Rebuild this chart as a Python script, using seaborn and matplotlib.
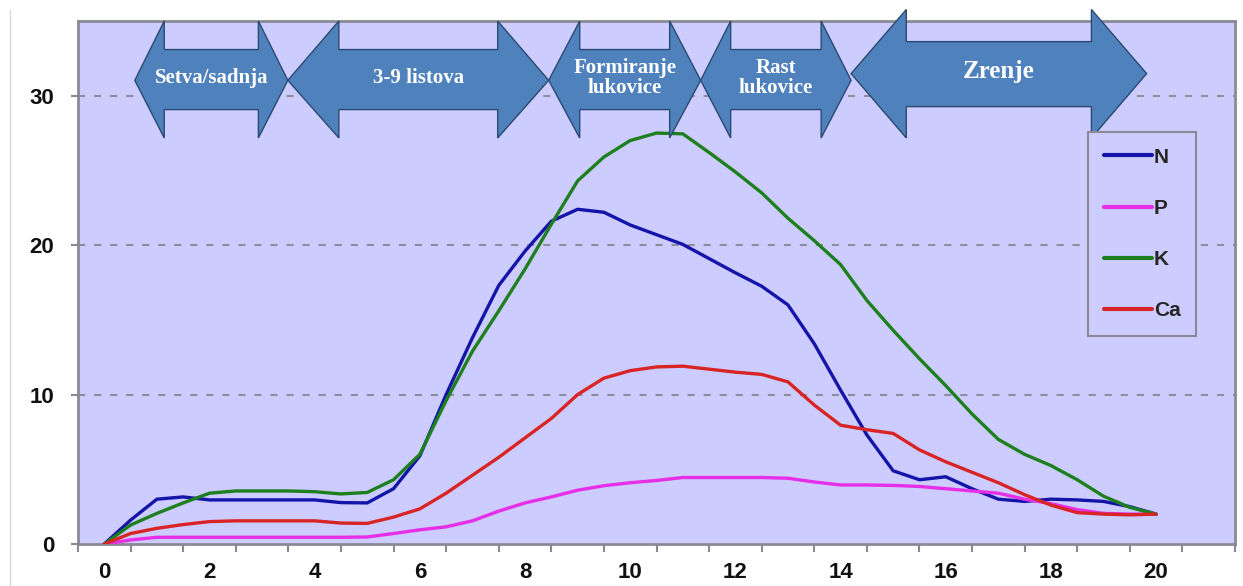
import numpy as np
import pandas as pd
import matplotlib.pyplot as plt
import seaborn as sns
from matplotlib.patches import Polygon
from matplotlib.lines import Line2D

# --- data ---
weeks = np.arange(0, 20.5, 0.5)

n_vals = [0, 1.6, 3.0, 3.15, 2.95, 2.95, 2.95, 2.95, 2.95, 2.77, 2.75, 3.7, 5.9, 10.0,
          13.8, 17.3, 19.6, 21.6, 22.4, 22.2, 21.35, 20.7, 20.05, 19.1, 18.15, 17.25,
          16.0, 13.4, 10.3, 7.3, 4.9, 4.3, 4.5, 3.7, 3.0, 2.85, 3.0, 2.95, 2.85, 2.5, 2.0]
p_vals = [0, 0.27, 0.45, 0.45, 0.45, 0.45, 0.45, 0.45, 0.45, 0.45, 0.47, 0.7, 0.95, 1.15,
          1.55, 2.2, 2.75, 3.15, 3.6, 3.9, 4.1, 4.25, 4.45, 4.45, 4.45, 4.45, 4.4, 4.15,
          3.95, 3.95, 3.92, 3.85, 3.7, 3.55, 3.4, 3.0, 2.7, 2.3, 2.05, 2.0, 2.0]
k_vals = [0, 1.27, 2.05, 2.75, 3.4, 3.55, 3.55, 3.55, 3.5, 3.35, 3.45, 4.3, 6.0, 9.6,
          12.9, 15.6, 18.4, 21.4, 24.3, 25.9, 27.0, 27.5, 27.45, 26.2, 24.9, 23.5, 21.8,
          20.3, 18.7, 16.3, 14.3, 12.4, 10.6, 8.7, 7.0, 6.0, 5.25, 4.3, 3.2, 2.45, 2.0]
ca_vals = [0, 0.7, 1.05, 1.3, 1.5, 1.55, 1.55, 1.55, 1.55, 1.4, 1.38, 1.8, 2.35, 3.4,
           4.6, 5.8, 7.1, 8.4, 10.0, 11.1, 11.6, 11.85, 11.9, 11.7, 11.5, 11.35, 10.85,
           9.3, 7.95, 7.65, 7.4, 6.3, 5.5, 4.8, 4.1, 3.3, 2.6, 2.1, 2.0, 1.95, 2.0]

nutrients = ["N", "P", "K", "Ca"]
colors = {"N": "#1414a8", "P": "#e62ee6", "K": "#1d7f1d", "Ca": "#d82424"}

x_labels = [str(i) for i in range(0, 21, 2)]
y_ticks = [0, 10, 20, 30]

stage_labels = ["Setva/sadnja", "3-9 listova", "Formiranje\nlukovice", "Rast\nlukovice", "Zrenje"]
stage_start = [0.58, 3.49, 8.45, 11.34, 14.2]
stage_end = [3.49, 8.45, 11.34, 14.2, 19.82]

df = pd.DataFrame({"week": np.tile(weeks, 4),
                   "value": n_vals + p_vals + k_vals + ca_vals,
                   "nutrient": np.repeat(nutrients, len(weeks))})

# --- style ---
sns.set_theme(style="white", rc={"axes.facecolor": "#ccccff"})
plt.rcParams["font.family"] = ["Liberation Sans", "DejaVu Sans"]

fig = plt.figure(figsize=(12.43, 5.86), dpi=100)
ax = fig.add_axes([78 / 1243, 42 / 586, 1157 / 1243, 523 / 586])

sns.lineplot(data=df, x="week", y="value", hue="nutrient", palette=colors,
             hue_order=nutrients, linewidth=2.4, ax=ax, zorder=3)

ax.set_xlim(-0.5, 21.5)
ax.set_ylim(0, 35)
ax.set_xlabel("")
ax.set_ylabel("")

ax.set_xticks(range(0, 21, 2))
ax.set_xticklabels(x_labels)
ax.set_xticks(np.arange(-0.5, 22, 1), minor=True)
ax.tick_params(axis="x", which="major", length=0, pad=13, labelsize=16)
ax.tick_params(axis="x", which="minor", length=6, width=1.5, color="#8a8a96", direction="out", bottom=True)
ax.set_yticks(y_ticks)
ax.tick_params(axis="y", length=5, width=1.5, color="#8a8a96", direction="out", left=True,
               pad=12, labelsize=16)
for lab in ax.get_xticklabels() + ax.get_yticklabels():
    lab.set_fontweight("bold")
    lab.set_color("#111111")

for y in y_ticks[1:]:
    ax.axhline(y, color="#8c8c9c", linewidth=1.5, dashes=(3.4, 4.3), zorder=1)

for sp in ax.spines.values():
    sp.set_color("#8a8a96")
    sp.set_linewidth(2)

# --- growth stage arrows ---
small = dict(tip=31.03, head_top=35.0, head_bot=27.17, body_top=33.09, body_bot=29.07)
big = dict(tip=31.48, head_top=35.77, head_bot=27.17, body_top=33.62, body_bot=29.27)
heads = [0.56, 0.97, 0.59, 0.57, 1.05]
for i, (lab, x0, x1) in enumerate(zip(stage_labels, stage_start, stage_end)):
    g = big if lab == "Zrenje" else small
    h = heads[i]
    pts = [(x0, g["tip"]), (x0 + h, g["head_top"]), (x0 + h, g["body_top"]),
           (x1 - h, g["body_top"]), (x1 - h, g["head_top"]), (x1, g["tip"]),
           (x1 - h, g["head_bot"]), (x1 - h, g["body_bot"]), (x0 + h, g["body_bot"]),
           (x0 + h, g["head_bot"])]
    ax.add_patch(Polygon(pts, closed=True, facecolor="#4f81bd", edgecolor="#2c4a70",
                         linewidth=1, zorder=4, clip_on=False))
    ax.text((x0 + x1) / 2, g["tip"] + 0.15, lab, ha="center", va="center",
            color="white", fontsize=18 if lab == "Zrenje" else 15, fontweight="bold",
            family=["Liberation Serif", "DejaVu Serif"], linespacing=1.0,
            zorder=5, clip_on=False)

# --- legend ---
handles, labels = ax.get_legend_handles_labels()
handles = [Line2D([], [], color=colors[l], linewidth=3) for l in labels]
leg = ax.legend(handles, labels, loc="upper left", bbox_to_anchor=(0.873, 0.788),
                frameon=True, fancybox=False, framealpha=1, edgecolor="#8a8a96",
                fontsize=15, labelspacing=1.55, handlelength=2.3, handletextpad=0.1,
                borderpad=0.75, borderaxespad=0)
leg.get_frame().set_linewidth(1.5)
leg.set_zorder(6)
for t in leg.get_texts():
    t.set_fontweight("bold")

fig.add_artist(Line2D([10 / 1243, 10 / 1243], [0, 576 / 586], color="#d8d8d8", linewidth=1))

fig.savefig("out.png", dpi=100, facecolor="white")
